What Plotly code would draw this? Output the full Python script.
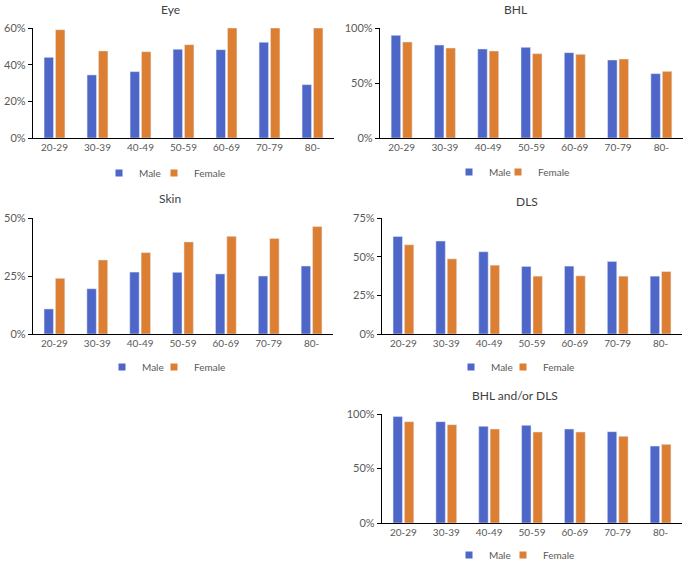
import plotly.graph_objects as go

W, H = 685, 562

ages = ["20-29", "30-39", "40-49", "50-59", "60-69", "70-79", "80-"]

eye_male = [0.44, 0.344, 0.362, 0.484, 0.482, 0.522, 0.291]
eye_female = [0.591, 0.475, 0.471, 0.509, 0.60, 0.60, 0.60]

bhl_male = [0.933, 0.845, 0.809, 0.824, 0.776, 0.709, 0.585]
bhl_female = [0.873, 0.818, 0.791, 0.767, 0.761, 0.718, 0.606]

skin_male = [0.108, 0.195, 0.267, 0.266, 0.259, 0.250, 0.293]
skin_female = [0.240, 0.319, 0.351, 0.397, 0.421, 0.412, 0.463]

dls_male = [0.631, 0.601, 0.532, 0.437, 0.439, 0.469, 0.374]
dls_female = [0.577, 0.486, 0.445, 0.374, 0.376, 0.374, 0.404]

both_male = [0.976, 0.930, 0.887, 0.896, 0.862, 0.838, 0.706]
both_female = [0.930, 0.902, 0.862, 0.835, 0.835, 0.795, 0.722]

titles = ["Eye", "BHL", "Skin", "DLS", "BHL and/or DLS"]
sexes = ["Male", "Female"]
y_ranges = [0.6, 1.0, 0.5, 0.75, 1.0]
y_dticks = [0.2, 0.5, 0.25, 0.25, 0.5]

COLORS = {"Male": "#4E66C8", "Female": "#DD7F33"}
FONT = "Lato"

# panel pixel boxes: (left, right, top, bottom)
boxes = [
    (33, 334, 28, 138),
    (380, 683, 28, 138),
    (33, 333, 218, 334),
    (382, 682, 218, 334),
    (382, 682, 414, 523),
]
title_pos = [(170, 9), (515, 9), (170, 198), (527, 201), (515, 395)]
# legend entries: (male x, female x, y) in pixels
legend_pos = [(99, 154, 173), (449, 498, 172), (102, 154, 367),
              (451, 503, 367), (449, 503, 555)]

series = [
    (eye_male, eye_female),
    (bhl_male, bhl_female),
    (skin_male, skin_female),
    (dls_male, dls_female),
    (both_male, both_female),
]

fig = go.Figure()
layout = dict(
    width=W, height=H,
    margin=dict(l=0, r=0, t=0, b=0, autoexpand=False),
    paper_bgcolor="white", plot_bgcolor="white",
    barmode="group", bargap=0.47, bargroupgap=0.17,
    font=dict(family=FONT, size=10, color="#595959"),
    annotations=[],
)

for i, vals in enumerate(series):
    k = "" if i == 0 else str(i + 1)
    xa, ya = "x" + k, "y" + k
    for sex, v in zip(sexes, vals):
        fig.add_trace(go.Bar(x=ages, y=v, name=sex, marker_color=COLORS[sex],
                             xaxis=xa, yaxis=ya, showlegend=False))
    for j, sex in enumerate(sexes):
        n = 2 * i + j + 1
        lg = "legend" if n == 1 else f"legend{n}"
        fig.add_trace(go.Scatter(x=[None], y=[None], mode="markers", name=sex,
                                 marker=dict(symbol="square", size=7, color=COLORS[sex]),
                                 xaxis=xa, yaxis=ya, legend=lg, showlegend=True,
                                 hoverinfo="skip"))
        lx = legend_pos[i][j]
        ly = legend_pos[i][2]
        layout[lg] = dict(
            orientation="h", x=lx / W, xanchor="left", y=1 - ly / H, yanchor="middle",
            font=dict(family=FONT, size=10, color="#595959"),
            bgcolor="rgba(0,0,0,0)", itemclick=False, itemdoubleclick=False,
        )
    l, r, t, b = boxes[i]
    layout["xaxis" + k] = dict(
        domain=[l / W, r / W], anchor=ya, type="category",
        categoryorder="array", categoryarray=ages,
        showline=True, linecolor="#000000", linewidth=1.3,
        ticks="", showgrid=False, zeroline=False,
        tickfont=dict(family=FONT, size=10, color="#595959"),
        fixedrange=True,
    )
    layout["yaxis" + k] = dict(
        domain=[1 - b / H, 1 - t / H], anchor=xa,
        range=[0, y_ranges[i]], dtick=y_dticks[i], tick0=0,
        tickformat=".0%", showline=True, linecolor="#000000", linewidth=1.3,
        ticks="outside", ticklen=4, tickcolor="#000000", tickwidth=1.3,
        showgrid=False, zeroline=False,
        tickfont=dict(family=FONT, size=11, color="#595959"),
        fixedrange=True,
    )
    tx, ty = title_pos[i]
    layout["annotations"].append(dict(
        text=titles[i], xref="paper", yref="paper", x=tx / W, y=1 - ty / H,
        xanchor="center", yanchor="middle", showarrow=False,
        font=dict(family=FONT, size=12, color="#404040"),
    ))

fig.update_layout(**layout)
fig.write_html("out.html", config={"displayModeBar": False},
               post_script="document.body.style.margin='0';")
